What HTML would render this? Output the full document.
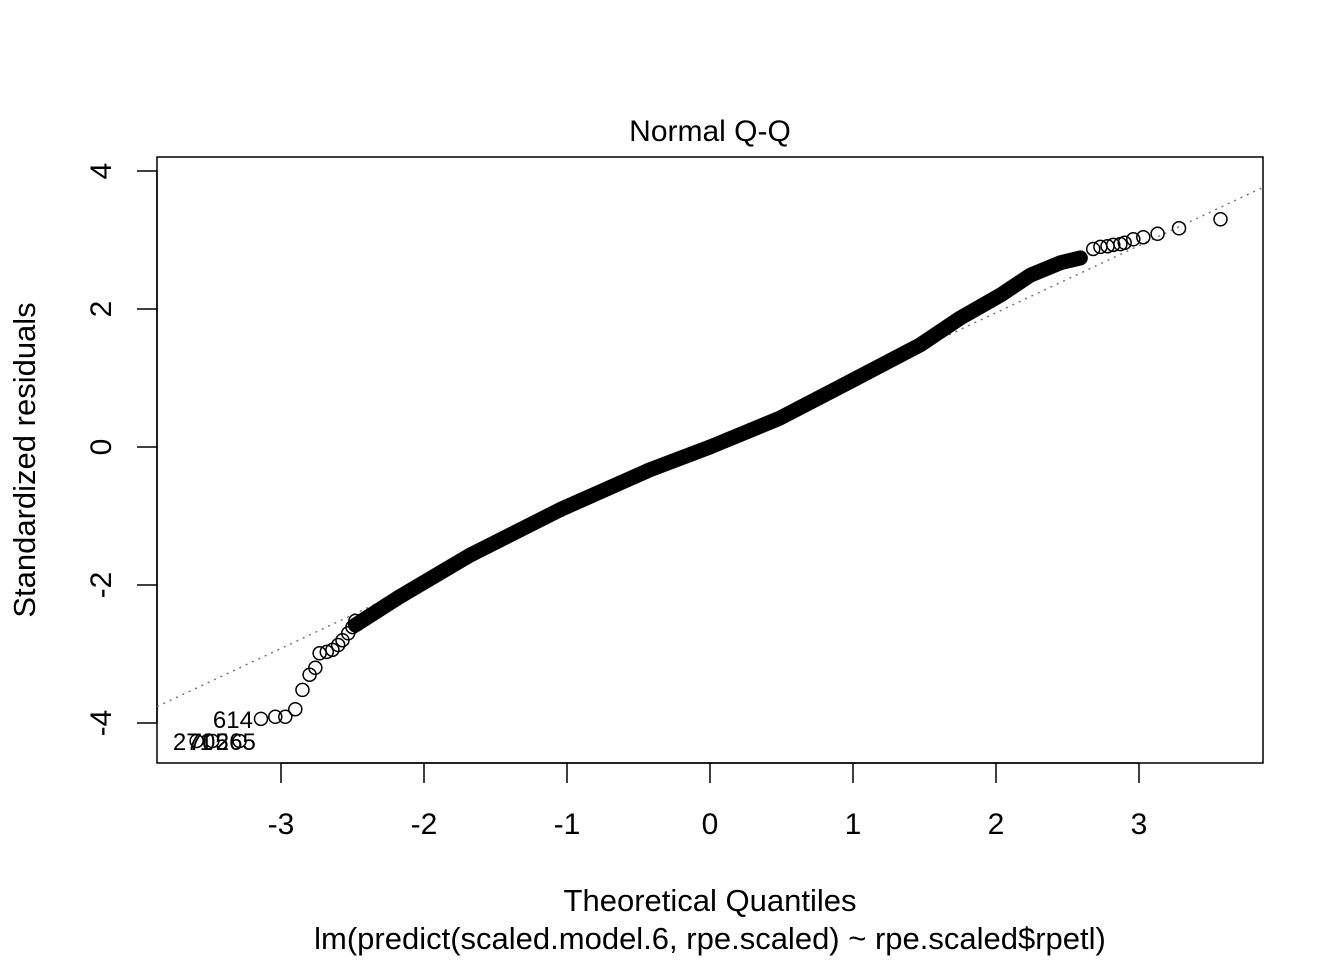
<!DOCTYPE html>
<html><head><meta charset="utf-8">
<style>
html,body{margin:0;padding:0;background:#fff;}
svg{display:block;font-family:"Liberation Sans",Arial,sans-serif;}
</style></head>
<body>
<svg id="chart" width="1344" height="960" viewBox="0 0 1344 960" xmlns="http://www.w3.org/2000/svg">
<text x="710" y="141" font-size="30" text-anchor="middle">Normal Q-Q</text>
<rect x="157" y="157" width="1106" height="606" fill="none" stroke="#000" stroke-width="1.5"/>
<g id="xaxis"></g>
<g id="yaxis"></g>
<text x="710" y="911" font-size="31" text-anchor="middle">Theoretical Quantiles</text>
<text x="710" y="949" font-size="31" text-anchor="middle">lm(predict(scaled.model.6, rpe.scaled) ~ rpe.scaled$rpetl)</text>
<text transform="translate(35,460) rotate(-90)" font-size="31" text-anchor="middle">Standardized residuals</text>
<g id="marks"></g>
</svg>
<script>
const xTicks=[-3,-2,-1,0,1,2,3];
const yTicks=[-4,-2,0,2,4];
const refSlope=0.973;
const bandX=[-2.48,-2.17,-1.68,-1.05,-0.42,0,0.49,1,1.47,1.75,2.03,2.24,2.45,2.59];
const bandY=[-2.58,-2.17,-1.57,-0.91,-0.33,0,0.42,0.97,1.48,1.87,2.2,2.49,2.67,2.74];
const tailX=[-3.59,-3.48,-3.29,-3.14,-3.04,-2.97,-2.90,-2.85,-2.80,-2.76,-2.73,-2.68,-2.64,-2.60,-2.57,-2.53,-2.50,-2.48,2.68,2.73,2.78,2.82,2.87,2.90,2.96,3.03,3.13,3.28,3.57];
const tailY=[-4.26,-4.26,-4.26,-3.94,-3.91,-3.91,-3.80,-3.52,-3.30,-3.20,-2.99,-2.97,-2.94,-2.87,-2.80,-2.70,-2.61,-2.52,2.87,2.90,2.91,2.93,2.94,2.96,3.01,3.04,3.09,3.17,3.30];
const labelText=["614","271","705","265"];
const labelX=[-3.14,-3.42,-3.31,-3.12];
const labelY=[-3.94,-4.26,-4.26,-4.26];

const NS="http://www.w3.org/2000/svg";
const sx=v=>710+143*v, sy=v=>447-69*v;
function mk(t,a,p){const e=document.createElementNS(NS,t);for(const k in a)e.setAttribute(k,a[k]);p.appendChild(e);return e;}
const xa=document.getElementById('xaxis'),ya=document.getElementById('yaxis'),m=document.getElementById('marks');
mk('line',{x1:sx(-3),x2:sx(3),y1:763,y2:763,stroke:'#000','stroke-width':1.5},xa);
xTicks.forEach(t=>{
 const l=mk('line',{x1:sx(t),x2:sx(t),y1:763,y2:783,stroke:'#000','stroke-width':1.5},xa);
 
 
 const tx=mk('text',{x:sx(t),y:834,'font-size':30,'text-anchor':'middle'},xa);tx.textContent=String(t);
 
 
});
mk('line',{x1:157,x2:157,y1:sy(-4),y2:sy(4),stroke:'#000','stroke-width':1.5},ya);
yTicks.forEach(t=>{
 const l=mk('line',{x1:137,x2:157,y1:sy(t),y2:sy(t),stroke:'#000','stroke-width':1.5},ya);
 
 
 const tx=mk('text',{transform:`translate(111,${sy(t)}) rotate(-90)`,'font-size':30,'text-anchor':'middle'},ya);tx.textContent=String(t);
 
 
});
const rl=mk('line',{x1:157,y1:sy(refSlope*(157-710)/143),x2:1263,y2:sy(refSlope*(1263-710)/143),stroke:'#777','stroke-width':1.5,'stroke-dasharray':'2,5'},m);


const band=mk('polyline',{points:bandX.map((x,i)=>sx(x)+','+sy(bandY[i])).join(' '),fill:'none',stroke:'#000','stroke-width':15,'stroke-linejoin':'round','stroke-linecap':'round'},m);


tailX.forEach((x,i)=>{
 const c=mk('circle',{cx:sx(x),cy:sy(tailY[i]),r:6.5,fill:'none',stroke:'#000','stroke-width':1.5},m);
 
 
});
labelText.forEach((s,i)=>{
 const t=mk('text',{x:sx(labelX[i])-8,y:sy(labelY[i])+9,'font-size':24,'text-anchor':'end'},m);
 t.textContent=s;
 
 
});
</script>
</body></html>
